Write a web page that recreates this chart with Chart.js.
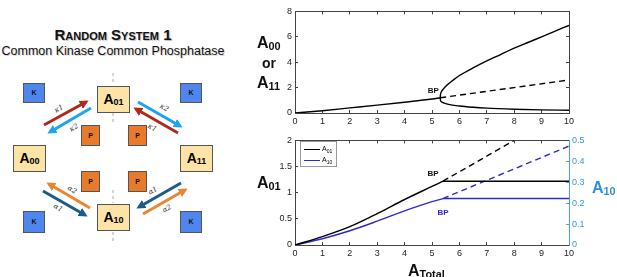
<!DOCTYPE html>
<html>
<head>
<meta charset="utf-8">
<script src="https://cdn.jsdelivr.net/npm/chart.js@4"></script>
<style>
  body { margin: 0; background: #fff; font-family: "Liberation Sans", Arial, sans-serif; }
  #wrap { position: relative; width: 617px; height: 277px; overflow: hidden; }
  canvas { position: absolute; }
  .lbl { position: absolute; font-weight: bold; color: #111; line-height: 1; white-space: nowrap; }
  .lbl sub { font-size: 0.68em; vertical-align: -0.18em; }
  .box { position: absolute; box-sizing: border-box; border: 1px solid #555; text-align: center; font-weight: bold; }
  .amp { background: #fde3a6; font-size: 14px; line-height: 25px; }
  .amp sub { font-size: 9px; vertical-align: -0.15em; line-height: 0; }
  .k { background: #4f86ee; font-size: 7px; color: #111; line-height: 18px; }
  .p { background: #e87a2c; font-size: 7px; color: #111; line-height: 19px; }
  #legend { position: absolute; left: 300px; top: 141px; width: 37px; height: 26px; border: 1px solid #999; background: #fff; box-sizing: border-box; font-size: 7px; }
  #legend div { position: absolute; left: 3px; height: 10px; line-height: 10px; white-space: nowrap; }
  #legend span { display: inline-block; width: 16px; height: 0; vertical-align: middle; margin-right: 2px; }
  #legend sub { font-size: 5px; }
</style>
</head>
<body>
<div id="wrap">
  <div class="lbl" style="left:0;width:226px;top:27px;text-align:center;font-size:15px;font-variant:small-caps;text-shadow:1px 1px 1px #bbb;">Random System 1</div>
  <div class="lbl" style="left:0;width:226px;top:45px;text-align:center;font-size:12.5px;font-weight:normal;text-shadow:1px 1px 1px #ccc;">Common Kinase Common Phosphatase</div>

  <svg style="position:absolute;left:0;top:0" width="240" height="277">
    <defs>
      <marker id="mr" markerWidth="3" markerHeight="3" refX="2" refY="1.5" orient="auto"><path d="M0,0 L3,1.5 L0,3z" fill="#b2291c"/></marker>
      <marker id="mc" markerWidth="3" markerHeight="3" refX="2" refY="1.5" orient="auto"><path d="M0,0 L3,1.5 L0,3z" fill="#1ea4ef"/></marker>
      <marker id="mo" markerWidth="3" markerHeight="3" refX="2" refY="1.5" orient="auto"><path d="M0,0 L3,1.5 L0,3z" fill="#ea8530"/></marker>
      <marker id="mn" markerWidth="3" markerHeight="3" refX="2" refY="1.5" orient="auto"><path d="M0,0 L3,1.5 L0,3z" fill="#1b5b8b"/></marker>
    </defs>
    <g stroke="#aaa" stroke-width="1" stroke-dasharray="3,3">
      <line x1="113" y1="73" x2="113" y2="85"/>
      <line x1="113" y1="113" x2="113" y2="125"/>
      <line x1="113" y1="190" x2="113" y2="203"/>
      <line x1="113" y1="232" x2="113" y2="244"/>
    </g>
    <g stroke-width="3" fill="none">
      <line x1="44" y1="125" x2="86" y2="102" stroke="#b2291c" marker-end="url(#mr)"/>
      <line x1="91" y1="108" x2="50" y2="132" stroke="#1ea4ef" marker-end="url(#mc)"/>
      <line x1="138" y1="102" x2="180" y2="126" stroke="#1ea4ef" marker-end="url(#mc)"/>
      <line x1="178" y1="133" x2="136" y2="109" stroke="#b2291c" marker-end="url(#mr)"/>
      <line x1="90" y1="208" x2="49" y2="184" stroke="#ea8530" marker-end="url(#mo)"/>
      <line x1="43" y1="191" x2="85" y2="215" stroke="#1b5b8b" marker-end="url(#mn)"/>
      <line x1="181" y1="183" x2="139" y2="207" stroke="#1b5b8b" marker-end="url(#mn)"/>
      <line x1="143" y1="214" x2="185" y2="190" stroke="#ea8530" marker-end="url(#mo)"/>
    </g>
    <g font-family="DejaVu Serif, serif" font-style="italic" font-size="7" fill="#333" text-anchor="middle" dominant-baseline="middle">
      <text x="59" y="109" transform="rotate(-30 59 109)">κ1</text>
      <text x="74" y="128" transform="rotate(-30 74 128)">κ2</text>
      <text x="164" y="108" transform="rotate(30 164 108)">κ2</text>
      <text x="152" y="128" transform="rotate(30 152 128)">κ1</text>
      <text x="72" y="190" transform="rotate(30 72 190)">α2</text>
      <text x="58" y="208" transform="rotate(30 58 208)">α1</text>
      <text x="153" y="191" transform="rotate(-30 153 191)">α1</text>
      <text x="167" y="209" transform="rotate(-30 167 209)">α2</text>
    </g>
  </svg>

  <div class="box amp" style="left:97px;top:86px;width:33px;height:27px;">A<sub>01</sub></div>
  <div class="box amp" style="left:13px;top:145px;width:33px;height:27px;">A<sub>00</sub></div>
  <div class="box amp" style="left:180px;top:145px;width:33px;height:27px;">A<sub>11</sub></div>
  <div class="box amp" style="left:97px;top:204px;width:33px;height:27px;">A<sub>10</sub></div>
  <div class="box k" style="left:23px;top:83px;width:22px;height:20px;">K</div>
  <div class="box k" style="left:180px;top:83px;width:22px;height:20px;">K</div>
  <div class="box k" style="left:23px;top:211px;width:22px;height:22px;line-height:20px;">K</div>
  <div class="box k" style="left:180px;top:211px;width:22px;height:22px;line-height:20px;">K</div>
  <div class="box p" style="left:81px;top:125px;width:19px;height:21px;">P</div>
  <div class="box p" style="left:128px;top:125px;width:19px;height:21px;">P</div>
  <div class="box p" style="left:81px;top:171px;width:19px;height:21px;">P</div>
  <div class="box p" style="left:128px;top:171px;width:19px;height:21px;">P</div>

  <canvas id="top" width="345" height="128" style="left:240px;top:0"></canvas>
  <canvas id="bottom" width="377" height="148" style="left:240px;top:129px"></canvas>

  <div class="lbl" style="left:257px;top:35px;font-size:16px;">A<sub>00</sub></div>
  <div class="lbl" style="left:262px;top:56px;font-size:14px;">or</div>
  <div class="lbl" style="left:257px;top:75px;font-size:16px;">A<sub>11</sub></div>
  <div class="lbl" style="left:257px;top:175px;font-size:16px;">A<sub>01</sub></div>
  <div class="lbl" style="left:592px;top:180px;font-size:16px;color:#2f8fd6;">A<sub>10</sub></div>
  <div class="lbl" style="left:408px;top:263px;font-size:16px;">A<sub>Total</sub></div>

  <div id="legend">
    <div style="top:2px"><span style="border-top:1px solid #000"></span>A<sub>01</sub></div>
    <div style="top:13px"><span style="border-top:1px solid #2b2bd0"></span>A<sub>10</sub></div>
  </div>
</div>

<script>
// top panel: A00 or A11 vs ATotal
const lowX = [0, 1, 2, 3, 4, 5, 5.3];
const lowY = [0, 0.18, 0.4, 0.62, 0.85, 1.1, 1.2];
const upperX = [5.3, 5.31, 5.35, 5.42, 5.55, 5.75, 6, 6.5, 7, 7.5, 8, 8.5, 9, 9.5, 10];
const upperY = [1.2, 1.45, 1.7, 1.9, 2.2, 2.55, 2.95, 3.55, 4.1, 4.6, 5.1, 5.55, 6.0, 6.45, 6.9];
const lowerX = [5.3, 5.31, 5.35, 5.42, 5.6, 6, 6.5, 7, 8, 9, 10];
const lowerY = [1.2, 1.0, 0.88, 0.8, 0.68, 0.55, 0.45, 0.38, 0.3, 0.25, 0.22];
const unstableX = [5.3, 10];
const unstableY = [1.2, 2.6];

// bottom panel: A01 (left axis) and A10 (right axis)
const a01X = [0, 1, 2, 3, 4, 5, 5.4];
const a01Y = [0, 0.16, 0.35, 0.6, 0.87, 1.12, 1.22];
const a01FlatX = [5.4, 10];
const a01FlatY = [1.22, 1.22];
const a01DashX = [5.4, 8];
const a01DashY = [1.22, 2.0];
const a10X = [0, 1, 2, 3, 4, 5, 5.4];
const a10Y = [0, 0.03, 0.068, 0.114, 0.163, 0.207, 0.222];
const a10FlatX = [5.4, 10];
const a10FlatY = [0.222, 0.222];
const a10DashX = [5.4, 10];
const a10DashY = [0.222, 0.473];

const xTicks = [0, 1, 2, 3, 4, 5, 6, 7, 8, 9, 10];
const topYTicks = [0, 2, 4, 6, 8];
const leftYTicks = [0, 0.5, 1, 1.5, 2];
const rightYTicks = [0, 0.1, 0.2, 0.3, 0.4, 0.5];

// branch points
const topBP = [5.3, 1.2];
const a01BP = [5.4, 1.22];
const a10BP = [5.4, 0.222];

function pts(xs, ys) {
  return xs.map((x, i) => ({ x: x, y: ys[i] }));
}

function line(xs, ys, color, dashed, axis) {
  return {
    data: pts(xs, ys),
    borderColor: color,
    borderWidth: 1.4,
    borderDash: dashed ? [6, 4] : [],
    pointRadius: 0,
    showLine: true,
    cubicInterpolationMode: 'monotone',
    fill: false,
    yAxisID: axis || 'y'
  };
}

const tickFont = { family: 'Liberation Sans, Arial', size: 9 };

function axis(pos, min, max, list, opts) {
  opts = opts || {};
  return {
    type: 'linear',
    position: pos,
    min: min,
    max: max,
    afterBuildTicks: sc => { sc.ticks = list.map(v => ({ value: v })); },
    afterFit: sc => {
      if (pos === 'left' || pos === 'right') sc.width = opts.size; else sc.height = opts.size;
    },
    border: { display: true, color: opts.color || '#444', width: 1 },
    grid: { display: true, drawOnChartArea: false, tickLength: -3, color: opts.color || '#444' },
    ticks: {
      display: !opts.hideLabels,
      font: tickFont,
      color: opts.labelColor || '#222',
      padding: 6,
      maxRotation: 0,
      autoSkip: false,
      callback: v => String(v)
    }
  };
}

const bpPlugin = {
  id: 'bp',
  afterDatasetsDraw(chart, args, o) {
    const c = chart.ctx;
    c.save();
    c.font = 'bold 8px Liberation Sans, Arial';
    c.textAlign = 'center';
    c.textBaseline = 'middle';
    o.marks.forEach(m => {
      const px = chart.scales.x.getPixelForValue(m.at[0]);
      const py = chart.scales[m.axis].getPixelForValue(m.at[1]);
      c.fillStyle = m.color;
      c.fillText('BP', px + m.dx, py + m.dy);
    });
    c.restore();
  }
};

new Chart(document.getElementById('top'), {
  type: 'scatter',
  data: {
    datasets: [
      line(lowX, lowY, '#000', false),
      line(upperX, upperY, '#000', false),
      line(lowerX, lowerY, '#000', false),
      line(unstableX, unstableY, '#000', true)
    ]
  },
  options: {
    responsive: false,
    animation: false,
    plugins: {
      legend: { display: false },
      tooltip: { enabled: false },
      bp: { marks: [{ at: topBP, axis: 'y', dx: -7, dy: -7, color: '#111' }] }
    },
    scales: {
      x: axis('bottom', 0, 10, xTicks, { size: 15 }),
      x2: axis('top', 0, 10, xTicks, { size: 5, hideLabels: true }),
      y: axis('left', 0, 8, topYTicks, { size: 55 }),
      y2: axis('right', 0, 8, topYTicks, { size: 16, hideLabels: true })
    }
  },
  plugins: [bpPlugin]
});

new Chart(document.getElementById('bottom'), {
  type: 'scatter',
  data: {
    datasets: [
      line(a01X, a01Y, '#000', false),
      line(a01FlatX, a01FlatY, '#000', false),
      line(a01DashX, a01DashY, '#000', true),
      line(a10X, a10Y, '#2b2bd0', false, 'y2'),
      line(a10FlatX, a10FlatY, '#2b2bd0', false, 'y2'),
      line(a10DashX, a10DashY, '#2b2bd0', true, 'y2')
    ]
  },
  options: {
    responsive: false,
    animation: false,
    plugins: {
      legend: { display: false },
      tooltip: { enabled: false },
      bp: {
        marks: [
          { at: a01BP, axis: 'y', dx: -10, dy: -7, color: '#111' },
          { at: a10BP, axis: 'y2', dx: 0, dy: 14, color: '#2b2bd0' }
        ]
      }
    },
    scales: {
      x: axis('bottom', 0, 10, xTicks, { size: 32 }),
      x2: axis('top', 0, 10, xTicks, { size: 8, hideLabels: true }),
      y: axis('left', 0, 2, leftYTicks, { size: 55 }),
      y2: axis('right', 0, 0.5, rightYTicks, { size: 48, color: '#4aa3dc', labelColor: '#3b95d3' })
    }
  },
  plugins: [bpPlugin]
});
</script>
</body>
</html>
